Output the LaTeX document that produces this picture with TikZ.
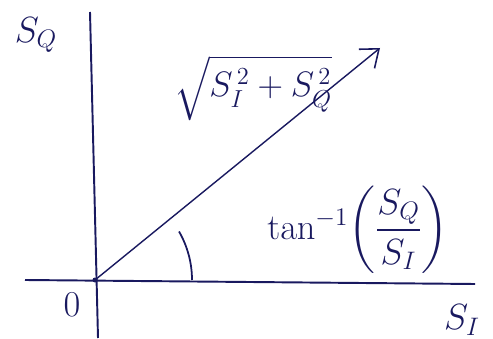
\documentclass[tikz,border=0pt]{standalone}
\usepackage{tikz}
\usetikzlibrary{positioning, arrows.meta, calc}
\usepackage{amsmath}
\definecolor{inkb}{RGB}{25,25,95}
\tikzset{
  axisline/.style = {draw=inkb, line width=1.1pt},
  vecline/.style  = {draw=inkb, line width=0.8pt,
                     -{Straight Barb[length=9pt, width=14pt, line width=0.9pt]}},
  anglearc/.style = {draw=inkb, line width=1pt},
  axlabel/.style  = {text=inkb, font=\huge},
  magtext/.style  = {text=inkb, font=\huge},
}

\begin{document}
\begin{tikzpicture}[x=0.02cm, y=0.02cm]
        \useasboundingbox (0,0) rectangle (493,338);
        % axes
        \coordinate (o) at (95,58);
        \coordinate (ytop) at (90,326);
        \coordinate (ybot) at (98,0);
        \coordinate (xleft) at (25,58);
        \coordinate (xright) at (475,54);
        \draw[axisline] (ybot) -- (ytop);
        \draw[axisline] (xleft) -- (xright);
        \fill[inkb] (o) circle (2.5);
        % resultant
        \coordinate (tip) at (380,290);
        \draw[vecline] (o) -- (tip);
        \draw[anglearc] ($(o)+(97,0)$) arc (0:30:97);
        % labels
        \node[axlabel] (sq) at (36,303) {$S_Q$};
        \node[axlabel] (si) at (462,18) {$S_I$};
        \node[axlabel] (zero) at (72,33) {$0$};
        \node[magtext, scale=0.97] (mag) at (253,250) {$\sqrt{S_I^{\,2}+S_Q^{\,2}}$};
        \node[magtext] (ang) at (358,108) {$\tan^{-1}\!\left(\dfrac{S_Q}{S_I}\right)$};
      \end{tikzpicture}
\end{document}
